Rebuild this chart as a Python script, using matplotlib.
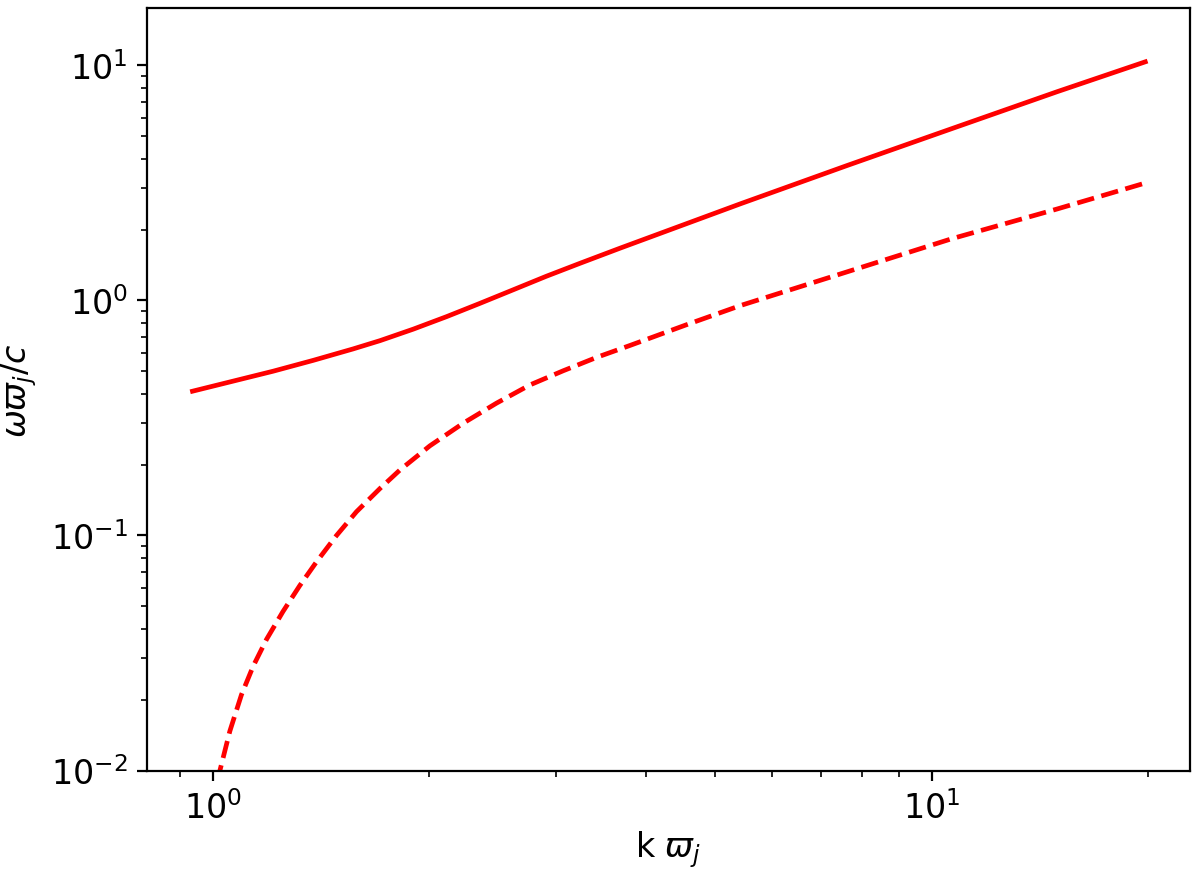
import matplotlib
matplotlib.use("Agg")
import matplotlib.pyplot as plt

# (log-log), k*varpi_j vs omega*varpi_j/c
k_upper = [0.937, 1.213, 1.379, 1.567, 1.708, 1.90, 2.113, 2.35, 2.62, 2.91,
           3.24, 3.68, 5.42, 7.60, 10.65, 14.93, 19.8]
w_upper = [0.411, 0.500, 0.556, 0.622, 0.6745, 0.755, 0.853, 0.971, 1.112, 1.268,
           1.439, 1.667, 2.58, 3.74, 5.38, 7.73, 10.36]

k_lower = [1.0, 1.023, 1.056, 1.096, 1.138, 1.188, 1.252, 1.321, 1.394, 1.486,
           1.584, 1.708, 1.820, 2.003, 2.23, 2.48, 2.76, 3.07, 3.42, 3.80,
           4.55, 5.42, 7.60, 10.65, 14.93, 19.8]
w_lower = [0.007, 0.0100, 0.0147, 0.0210, 0.0278, 0.0362, 0.0475, 0.0612, 0.0773, 0.1000,
           0.1262, 0.1585, 0.1898, 0.2405, 0.3006, 0.3656, 0.437, 0.502, 0.573, 0.643,
           0.787, 0.952, 1.32, 1.83, 2.45, 3.16]

fig = plt.figure(figsize=(6, 4.35), dpi=200)
ax = fig.add_axes([0.1225, 0.1132, 0.8692, 0.8761])

ax.loglog(k_upper, w_upper, color='red', lw=1.7, ls='-')
ax.loglog(k_lower, w_lower, color='red', lw=1.7, ls='--')

ax.set_xlim(0.81, 22.85)
ax.set_ylim(0.01, 17.5)

ax.set_xlabel(r'k $\varpi_j$', fontsize=12, labelpad=1.2)
ax.set_ylabel(r'$\omega\varpi_j/c$', fontsize=12)
ax.tick_params(which='major', labelsize=12)

fig.savefig('out.png', dpi=200)
